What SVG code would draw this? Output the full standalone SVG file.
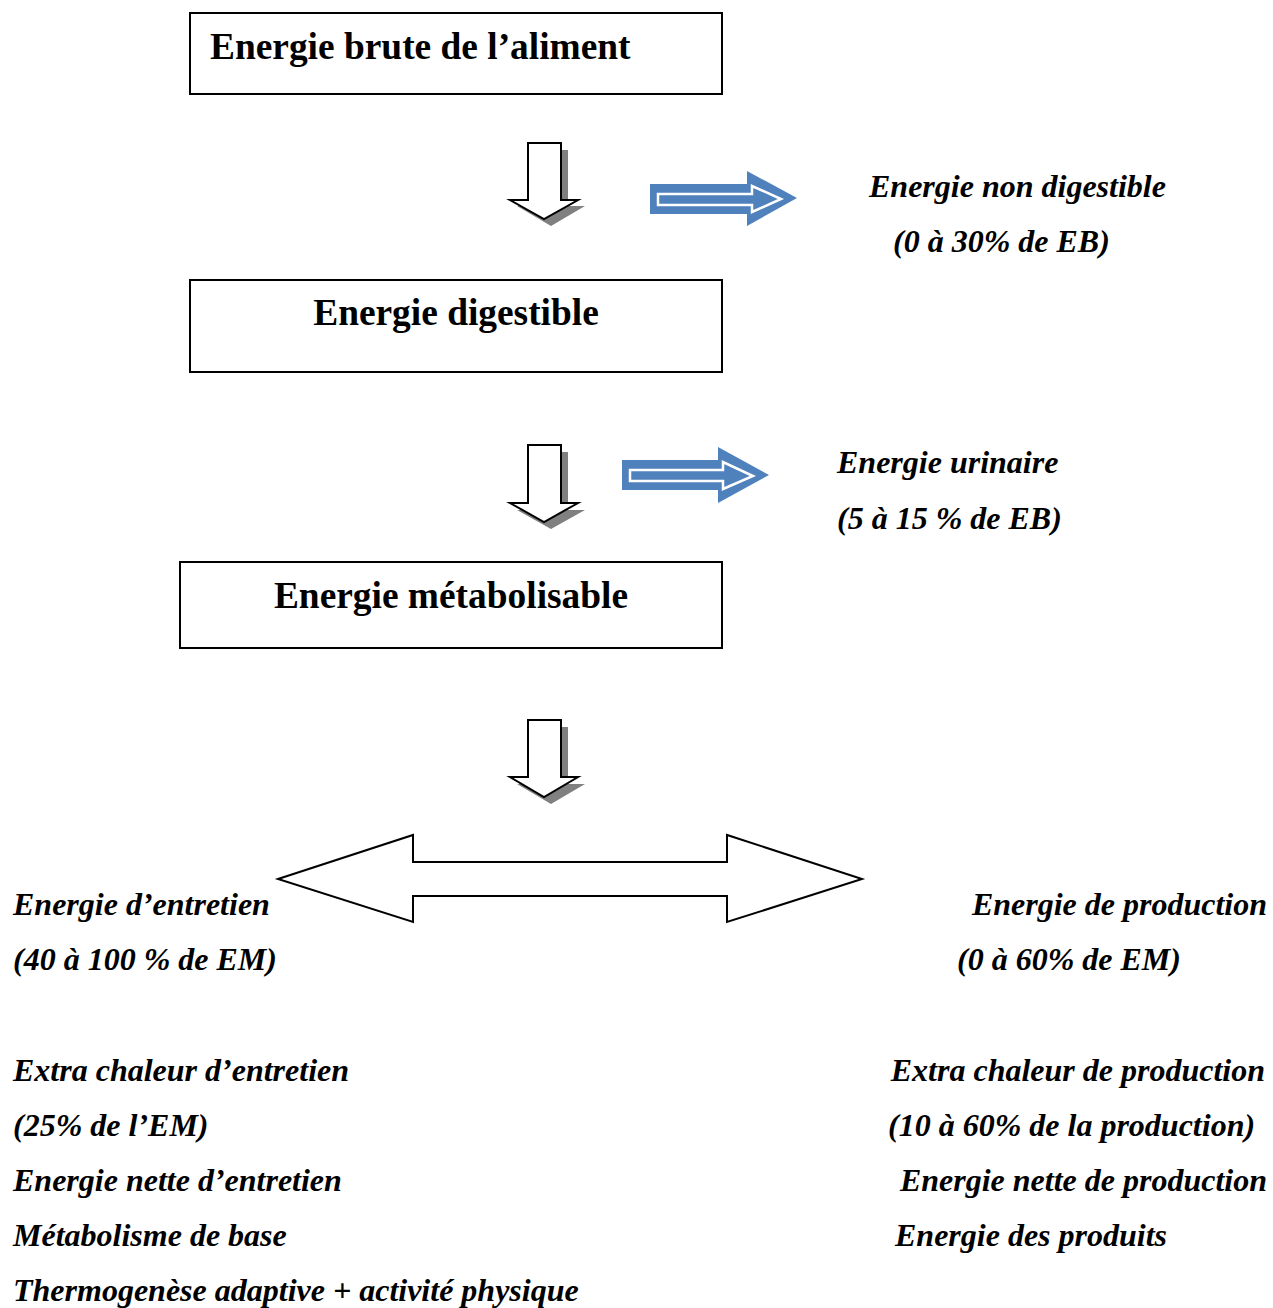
<svg xmlns="http://www.w3.org/2000/svg" width="1273" height="1308" viewBox="0 0 1273 1308">
<defs>
<style>
.box{fill:#fff;stroke:#000;stroke-width:2}
.bt{font-family:"Liberation Serif",serif;font-weight:bold;font-size:37.4px;fill:#000}
.it{font-family:"Liberation Serif",serif;font-weight:bold;font-style:italic;font-size:32px;fill:#000}
.down{fill:#fff;stroke:#000;stroke-width:2;stroke-linejoin:miter}
.shadow{fill:#808080}
.blue{fill:#4f81bd}
.inner{fill:#4f81bd;stroke:#fff;stroke-width:2.5}
.dbl{fill:#fff;stroke:#000;stroke-width:2}
</style>
</defs>
<g id="node-brute">
<rect class="box" x="190" y="13" width="532" height="81"/>
<text class="bt" x="210" y="59">Energie brute de l’aliment</text>
</g>
<g id="node-digestible">
<rect class="box" x="190" y="280" width="532" height="92"/>
<text class="bt" x="456" y="325" text-anchor="middle">Energie digestible</text>
</g>
<g id="node-metabolisable">
<rect class="box" x="180" y="562" width="542" height="86"/>
<text class="bt" x="451" y="608" text-anchor="middle">Energie métabolisable</text>
</g>
<g id="node-non-digestible">
<text class="it" x="869" y="197">Energie non digestible</text>
<text class="it" x="893" y="252">(0 à 30% de EB)</text>
</g>
<g id="node-urinaire">
<text class="it" x="837" y="473">Energie urinaire</text>
<text class="it" x="837" y="529">(5 à 15 % de EB)</text>
</g>
<g id="node-entretien">
<text class="it" x="13" y="915">Energie d’entretien</text>
<text class="it" x="13" y="970">(40 à 100 % de EM)</text>
<text class="it" x="13" y="1081">Extra chaleur d’entretien</text>
<text class="it" x="13" y="1136">(25% de l’EM)</text>
<text class="it" x="13" y="1191">Energie nette d’entretien</text>
<text class="it" x="13" y="1246">Métabolisme de base</text>
<text class="it" x="13" y="1301">Thermogenèse adaptive + activité physique</text>
</g>
<g id="node-production">
<text class="it" x="1267" y="915" text-anchor="end">Energie de production</text>
<text class="it" x="957" y="970">(0 à 60% de EM)</text>
<text class="it" x="1265" y="1081" text-anchor="end">Extra chaleur de production</text>
<text class="it" x="888" y="1136">(10 à 60% de la production)</text>
<text class="it" x="1267" y="1191" text-anchor="end">Energie nette de production</text>
<text class="it" x="895" y="1246">Energie des produits</text>
</g>
<g id="connectors">
<g id="down1">
<polygon class="shadow" points="535,150 568,150 568,206 585,206 551,226 517,206 535,206"/>
<polygon class="down" points="528,143 561,143 561,200 578,200 544,219 510,200 528,200"/>
</g>
<g id="down2">
<polygon class="shadow" points="535,452 568,452 568,510 585,510 551,529 517,510 535,510"/>
<polygon class="down" points="528,445 561,445 561,503 578,503 544,522 510,503 528,503"/>
</g>
<g id="down3">
<polygon class="shadow" points="535,727 568,727 568,784 585,784 551,804 517,784 535,784"/>
<polygon class="down" points="528,720 561,720 561,777 578,777 544,797 510,777 528,777"/>
</g>
<g id="blue1">
<polygon class="blue" points="650,184 747,184 747,171 797,198 747,226 747,214 650,214"/>
<polygon class="inner" points="658,194 752,194 752,186 781,199 752,212 752,205 658,205"/>
</g>
<g id="blue2">
<polygon class="blue" points="622,460 718,460 718,447 769,475 718,503 718,490 622,490"/>
<polygon class="inner" points="630,470 723,470 723,462 753,476 723,489 723,481 630,481"/>
</g>
<g id="double">
<polygon class="dbl" points="278,879 413,835 413,862 727,862 727,835 862,879 727,922 727,896 413,896 413,922"/>
</g>
</g>
</svg>
